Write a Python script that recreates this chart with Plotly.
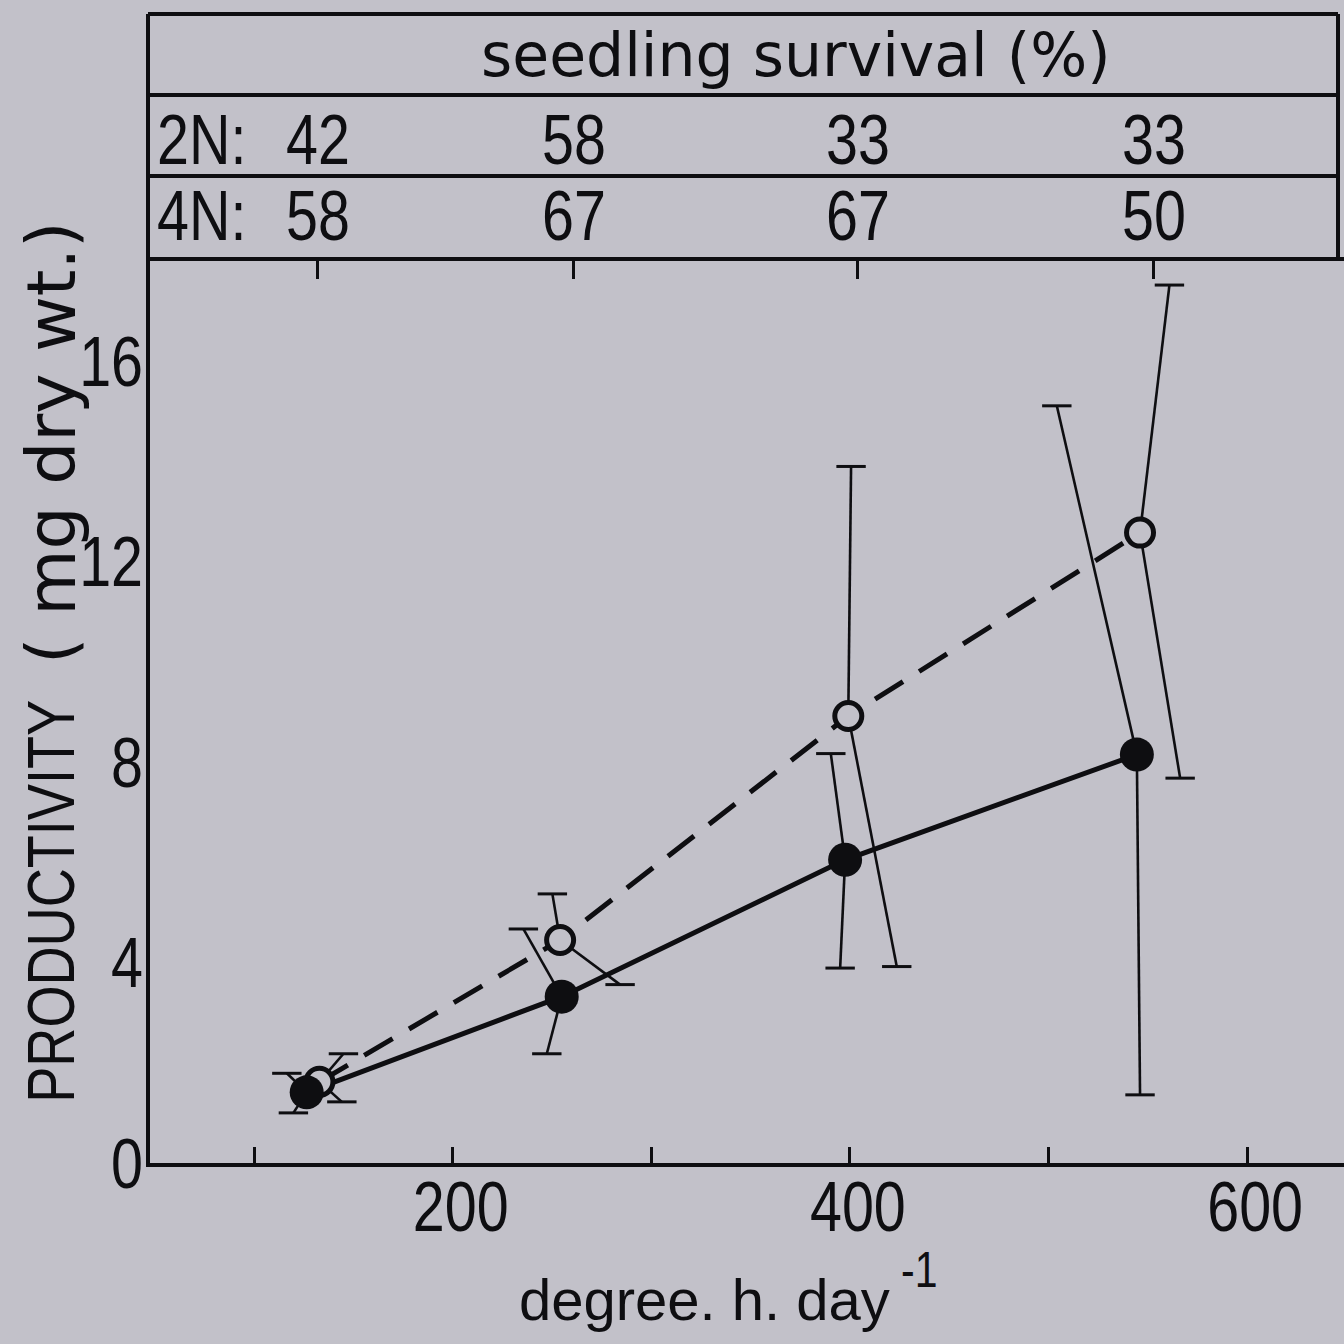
import plotly.graph_objects as go

BG = "#c2c1c9"
INK = "#0e0e11"
# Stencil-style lettering: digits and capitals are set in Liberation Sans and
# condensed after rendering (families tagged with "Arial Narrow");
# lowercase text uses DejaVu Sans or plain Liberation Sans.
NARROW = "Liberation Sans, Arial Narrow, sans-serif"
PLAIN = "Liberation Sans, sans-serif"
WIDE = "DejaVu Sans, sans-serif"

# ---- seedling survival table (%) ----
survival_cols = [132.0, 261.0, 404.0, 553.0]
survival_2n = [42, 58, 33, 33]
survival_4n = [58, 67, 67, 50]

# ---- productivity (mg dry wt.) vs degree.h.day^-1 ----
# 2N: filled circles, solid line
x_2n = [126.5, 254.9, 397.6, 544.5]
y_2n = [1.41, 3.32, 6.05, 8.15]
x_2n_hi = [116.5, 235.6, 390.4, 504.2]
y_2n_hi = [1.79, 4.67, 8.17, 15.11]
x_2n_lo = [119.8, 247.4, 395.1, 546.1]
y_2n_lo = [1.00, 2.18, 3.89, 1.36]

# 4N: open circles, dashed line
x_4n = [132.9, 254.1, 399.2, 546.1]
y_4n = [1.62, 4.45, 8.92, 12.58]
x_4n_hi = [145.0, 250.2, 400.6, 560.9]
y_4n_hi = [2.18, 5.37, 13.90, 17.52]
x_4n_lo = [144.2, 284.3, 423.6, 566.3]
y_4n_lo = [1.22, 3.56, 3.92, 7.68]

x_ticks = [200, 400, 600]
x_minor_ticks = [100, 300, 500]
y_ticks = [0, 4, 8, 12, 16]


def whisker_path(x, y, xe, ye):
    xs, ys = [], []
    for a, b, c, d in zip(x, y, xe, ye):
        xs += [a, c, None]
        ys += [b, d, None]
    return xs, ys


fig = go.Figure()

# error-bar stems (drawn from each mean to its cap)
for xs_, ys_ in [
    whisker_path(x_2n, y_2n, x_2n_hi, y_2n_hi),
    whisker_path(x_2n, y_2n, x_2n_lo, y_2n_lo),
    whisker_path(x_4n, y_4n, x_4n_hi, y_4n_hi),
    whisker_path(x_4n, y_4n, x_4n_lo, y_4n_lo),
]:
    fig.add_trace(go.Scatter(x=xs_, y=ys_, mode="lines",
                             line=dict(color=INK, width=2.6),
                             hoverinfo="skip", showlegend=False))

# error-bar caps
fig.add_trace(go.Scatter(
    x=x_2n_hi + x_2n_lo + x_4n_hi + x_4n_lo,
    y=y_2n_hi + y_2n_lo + y_4n_hi + y_4n_lo,
    mode="markers",
    marker=dict(symbol="line-ew", size=21, line=dict(color=INK, width=3)),
    hoverinfo="skip", showlegend=False))

# connecting lines
fig.add_trace(go.Scatter(x=x_4n, y=y_4n, mode="lines", name="4N",
                         line=dict(color=INK, width=5, dash="33px,19px"),
                         showlegend=False))
fig.add_trace(go.Scatter(x=x_2n, y=y_2n, mode="lines", name="2N",
                         line=dict(color=INK, width=5), showlegend=False))

# markers
fig.add_trace(go.Scatter(x=x_4n, y=y_4n, mode="markers", name="4N",
                         marker=dict(size=27, color=BG,
                                     line=dict(color=INK, width=5)),
                         showlegend=False))
fig.add_trace(go.Scatter(x=x_2n, y=y_2n, mode="markers", name="2N",
                         marker=dict(size=34, color=INK,
                                     line=dict(color=INK, width=0)),
                         showlegend=False))

# carrier for the top tick axis
fig.add_trace(go.Scatter(x=survival_cols, y=[None] * len(survival_cols),
                         xaxis="x2", mode="markers", showlegend=False,
                         hoverinfo="skip"))

# ---- layout geometry (pixels) ----
W = H = 1344
ML, MR, MT, MB = 150, 0, 261, 181
PW, PH = W - ML - MR, H - MT - MB


def px_x(p):
    return (p - ML) / PW


def px_y(p):
    return (H - MB - p) / PH


x_range = [47.6, 648.8]

fig.update_layout(
    width=W, height=H,
    margin=dict(l=ML, r=MR, t=MT, b=MB, pad=0),
    paper_bgcolor=BG, plot_bgcolor=BG,
    font=dict(family=NARROW, color=INK),
    xaxis=dict(range=x_range, showline=True, linewidth=4, linecolor=INK,
               ticks="inside", ticklen=16, tickwidth=3, tickcolor=INK,
               tickvals=x_ticks,
               minor=dict(tickvals=x_minor_ticks, ticks="inside",
                          ticklen=16, tickwidth=3, tickcolor=INK,
                          showgrid=False),
               tickfont=dict(family=NARROW, size=70, color=INK),
               ticklabelstandoff=-20, ticklabelshift=8,
               showgrid=False, zeroline=False, mirror=False),
    xaxis2=dict(range=x_range, overlaying="x", side="top",
                showline=True, linewidth=4, linecolor=INK,
                ticks="inside", ticklen=18, tickwidth=3, tickcolor=INK,
                tickvals=survival_cols, showticklabels=False,
                showgrid=False, zeroline=False),
    yaxis=dict(range=[0, 18], showline=True, linewidth=4, linecolor=INK,
               ticks="", tickvals=y_ticks,
               tickfont=dict(family=NARROW, size=70, color=INK),
               ticklabelstandoff=-11,
               showgrid=False, zeroline=False),
)

# ---- survival table frame ----
tx0, tx1 = px_x(148), px_x(1338)
ty_top, ty_r1, ty_r2 = px_y(14), px_y(95), px_y(176)
frame = dict(type="line", xref="paper", yref="paper",
             line=dict(color=INK, width=4))
fig.add_shape(**frame, x0=tx0, x1=tx0, y0=1, y1=ty_top)
fig.add_shape(**frame, x0=tx0, x1=tx1, y0=ty_top, y1=ty_top)
fig.add_shape(**frame, x0=tx1, x1=tx1, y0=ty_top, y1=1)
fig.add_shape(**frame, x0=tx0, x1=tx1, y0=ty_r1, y1=ty_r1)
fig.add_shape(**frame, x0=tx0, x1=tx1, y0=ty_r2, y1=ty_r2)

fig.add_annotation(text="seedling survival (%)", xref="paper", yref="paper",
                   x=px_x(796), y=px_y(55), xanchor="center", yanchor="middle",
                   showarrow=False, font=dict(family=WIDE, size=60, color=INK))

row_y = {"2N:": px_y(140), "4N:": px_y(216)}
for lab, vals in [("2N:", survival_2n), ("4N:", survival_4n)]:
    fig.add_annotation(text=lab, xref="paper", yref="paper",
                       x=px_x(155), y=row_y[lab], xanchor="left", align="left",
                       yanchor="middle", showarrow=False,
                       font=dict(family=NARROW, size=70, color=INK))
    for cx, v in zip(survival_cols, vals):
        fig.add_annotation(text=str(v), xref="x", yref="paper",
                           x=cx, y=row_y[lab], xanchor="center",
                           yanchor="middle", showarrow=False,
                           font=dict(family=NARROW, size=70, color=INK))

# ---- axis titles ----
fig.add_annotation(
    text="PRODUCTIVITY", xref="paper", yref="paper",
    x=px_x(51), y=px_y(902), xanchor="center", yanchor="middle",
    textangle=-90, showarrow=False,
    font=dict(family=NARROW, size=66, color=INK))
fig.add_annotation(
    text="( mg dry wt.)", xref="paper", yref="paper",
    x=px_x(51), y=px_y(443), xanchor="center", yanchor="middle",
    textangle=-90, showarrow=False,
    font=dict(family=WIDE, size=68, color=INK))

fig.add_annotation(
    text="degree. h. day", xref="paper", yref="paper",
    x=px_x(704), y=px_y(1299), xanchor="center", yanchor="middle",
    showarrow=False, font=dict(family=PLAIN, size=58, color=INK))
fig.add_annotation(
    text="-1", xref="paper", yref="paper",
    x=px_x(919), y=px_y(1270), xanchor="center", yanchor="middle",
    showarrow=False, font=dict(family=NARROW, size=50, color=INK))

# Condense the stencil lettering horizontally once the SVG is drawn.
condense_js = """
var gd = document.getElementById('{plot_id}');
function condense() {
  gd.querySelectorAll('text').forEach(function (t) {
    var ff = t.style.fontFamily || '';
    if (ff.indexOf('Narrow') < 0) { return; }
    t.removeAttribute('textLength');
    t.removeAttribute('lengthAdjust');
    var w = t.getComputedTextLength();
    if (w > 0) {
      t.setAttribute('textLength', (w * 0.82).toFixed(2));
      t.setAttribute('lengthAdjust', 'spacingAndGlyphs');
    }
  });
}
condense();
gd.on('plotly_afterplot', condense);
"""

fig.write_html("out.html", post_script=condense_js)
